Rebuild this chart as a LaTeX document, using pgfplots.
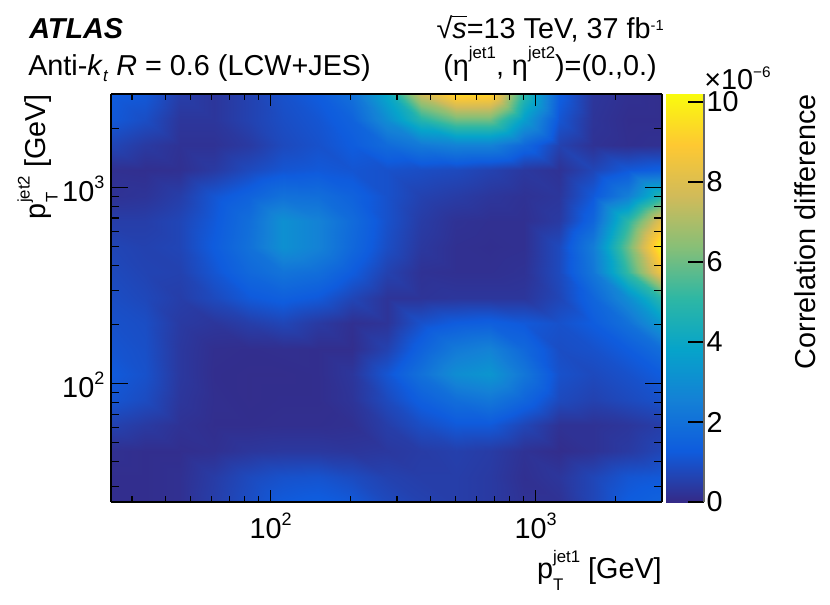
\documentclass[border=0pt]{standalone}
\usepackage{fontspec}
\setmainfont{Liberation Sans}
\usepackage{pgfplots}
\pgfplotsset{compat=1.18}
\newcommand\st[1]{\fontsize{12.6pt}{14pt}\selectfont #1}
\newcommand\fs{\fontsize{21.6pt}{26pt}\selectfont}
\newcommand\pT[1]{p\makebox[0pt][l]{\raisebox{-9.5pt}{\st{T}}}\raisebox{11.5pt}{\st{#1}}}
\newcommand\etaj[1]{η\raisebox{13pt}{\st{#1}}}
\newcommand\tl[1]{10\raisebox{9.5pt}{\fontsize{13.5pt}{14pt}\selectfont #1}}
\pgfplotsset{colormap={bird}{rgb=(0.2082,0.1664,0.5293) rgb=(0.0592,0.3599,0.8684) rgb=(0.0780,0.5041,0.8385) rgb=(0.0232,0.6419,0.7914) rgb=(0.1802,0.7178,0.6425) rgb=(0.5301,0.7492,0.4662) rgb=(0.8186,0.7328,0.3499) rgb=(0.9956,0.7862,0.1968) rgb=(0.9764,0.9832,0.0539)}}
\begin{document}
\begin{tikzpicture}
\path[use as bounding box] (0,0) rectangle (622.5pt,453pt);
\begin{axis}[
  at={(83.25pt,76.5pt)},anchor=south west,scale only axis,
  width=413.25pt,height=306pt,
  xmode=log,ymode=log,xmin=25,xmax=3000,ymin=25,ymax=3000,
  view={0}{90},colormap name=bird,point meta min=0,point meta max=10.2,
  axis on top,tick align=inside,
  axis line style={line width=0.8pt,black},
  xtick={100,1000},ytick={100,1000},
  xticklabels={\tl{2},\tl{3}},
  yticklabels={\tl{2},\tl{3}},
  minor xtick={30,40,50,60,70,80,90,200,300,400,500,600,700,800,900,2000,3000},
  minor ytick={30,40,50,60,70,80,90,200,300,400,500,600,700,800,900,2000,3000},
  x tick style={black,line width=0.8pt},
  y tick style={black,line width=0.8pt,/pgfplots/major tick length=12.75pt,/pgfplots/minor tick length=6.4pt},
  minor x tick style={black,line width=0.8pt},minor y tick style={black,line width=0.8pt},
  xtick pos=both,ytick pos=both,
  major tick length=9pt,minor tick length=4.5pt,
  xticklabel pos=bottom,yticklabel pos=left,
  tick label style={font=\fs},
  x tick label style={yshift=-5pt},
  y tick label style={xshift=-1.5pt,yshift=-1pt},
]
\addplot3[surf,shader=interp,mesh/cols=17] coordinates {
(25,3000,1.3)(33.7,3000,1.2)(45.5,3000,.5)(61.4,3000,.3)(82.8,3000,.6)(111.7,3000,1.0)(150.7,3000,1.3)(203.2,3000,2.0)(274.2,3000,4.0)(369.8,3000,7.6)(498.8,3000,9.4)(672.9,3000,9.3)(907.6,3000,5.0)(1224,3000,1.4)(1651,3000,.3)(2224,3000,.15)(3000,3000,.1)
(25,2224,1.2)(33.7,2224,.9)(45.5,2224,.3)(61.4,2224,.3)(82.8,2224,.6)(111.7,2224,.9)(150.7,2224,1.1)(203.2,2224,1.5)(274.2,2224,3.0)(369.8,2224,4.8)(498.8,2224,6)(672.9,2224,6)(907.6,2224,3.6)(1224,2224,1.1)(1651,2224,.25)(2224,2224,.1)(3000,2224,.1)
(25,1651,.7)(33.7,1651,.4)(45.5,1651,.2)(61.4,1651,.2)(82.8,1651,.4)(111.7,1651,.8)(150.7,1651,1.0)(203.2,1651,1.3)(274.2,1651,1.8)(369.8,1651,2.3)(498.8,1651,2.6)(672.9,1651,2.6)(907.6,1651,1.7)(1224,1651,.6)(1651,1651,.2)(2224,1651,.12)(3000,1651,.15)
(25,1224,.15)(33.7,1224,.12)(45.5,1224,.15)(61.4,1224,.4)(82.8,1224,.8)(111.7,1224,1.1)(150.7,1224,1.2)(203.2,1224,1.1)(274.2,1224,1.0)(369.8,1224,.9)(498.8,1224,.8)(672.9,1224,.6)(907.6,1224,.35)(1224,1224,.2)(1651,1224,.7)(2224,1224,1.2)(3000,1224,1.4)
(25,907.6,.2)(33.7,907.6,.25)(45.5,907.6,.5)(61.4,907.6,1.1)(82.8,907.6,1.5)(111.7,907.6,2.0)(150.7,907.6,1.9)(203.2,907.6,1.5)(274.2,907.6,1.0)(369.8,907.6,.6)(498.8,907.6,.45)(672.9,907.6,.3)(907.6,907.6,.2)(1224,907.6,.3)(1651,907.6,1.2)(2224,907.6,2.5)(3000,907.6,4.8)
(25,672.9,.5)(33.7,672.9,.5)(45.5,672.9,.7)(61.4,672.9,1.2)(82.8,672.9,1.9)(111.7,672.9,3.1)(150.7,672.9,2.6)(203.2,672.9,1.8)(274.2,672.9,1.0)(369.8,672.9,.45)(498.8,672.9,.2)(672.9,672.9,.15)(907.6,672.9,.15)(1224,672.9,.4)(1651,672.9,1.6)(2224,672.9,5)(3000,672.9,8.3)
(25,498.8,.7)(33.7,498.8,.6)(45.5,498.8,.7)(61.4,498.8,1.3)(82.8,498.8,2.0)(111.7,498.8,3.1)(150.7,498.8,2.6)(203.2,498.8,1.7)(274.2,498.8,.9)(369.8,498.8,.35)(498.8,498.8,.15)(672.9,498.8,.12)(907.6,498.8,.15)(1224,498.8,.8)(1651,498.8,2.4)(2224,498.8,6)(3000,498.8,10.1)
(25,369.8,.8)(33.7,369.8,.65)(45.5,369.8,.6)(61.4,369.8,1.1)(82.8,369.8,1.7)(111.7,369.8,2.1)(150.7,369.8,1.9)(203.2,369.8,1.3)(274.2,369.8,.6)(369.8,369.8,.2)(498.8,369.8,.15)(672.9,369.8,.15)(907.6,369.8,.2)(1224,369.8,.8)(1651,369.8,2.2)(2224,369.8,5.2)(3000,369.8,8.7)
(25,274.2,.9)(33.7,274.2,.75)(45.5,274.2,.5)(61.4,274.2,.8)(82.8,274.2,1.2)(111.7,274.2,1.4)(150.7,274.2,1.2)(203.2,274.2,.7)(274.2,274.2,.25)(369.8,274.2,.25)(498.8,274.2,.3)(672.9,274.2,.3)(907.6,274.2,.3)(1224,274.2,.7)(1651,274.2,1.6)(2224,274.2,3)(3000,274.2,5)
(25,203.2,1.0)(33.7,203.2,.9)(45.5,203.2,.4)(61.4,203.2,.3)(82.8,203.2,.5)(111.7,203.2,.7)(150.7,203.2,.4)(203.2,203.2,.15)(274.2,203.2,.25)(369.8,203.2,1.0)(498.8,203.2,1.3)(672.9,203.2,1.4)(907.6,203.2,1.2)(1224,203.2,1.0)(1651,203.2,1.3)(2224,203.2,2.0)(3000,203.2,3.5)
(25,150.7,1.1)(33.7,150.7,.95)(45.5,150.7,.35)(61.4,150.7,.12)(82.8,150.7,.1)(111.7,150.7,.12)(150.7,150.7,.1)(203.2,150.7,.1)(274.2,150.7,.6)(369.8,150.7,1.5)(498.8,150.7,2.3)(672.9,150.7,2.6)(907.6,150.7,1.7)(1224,150.7,.9)(1651,150.7,1.0)(2224,150.7,1.3)(3000,150.7,1.9)
(25,111.7,1.25)(33.7,111.7,1.0)(45.5,111.7,.35)(61.4,111.7,.1)(82.8,111.7,.08)(111.7,111.7,.08)(150.7,111.7,.1)(203.2,111.7,.3)(274.2,111.7,1.1)(369.8,111.7,2.0)(498.8,111.7,3.0)(672.9,111.7,3.3)(907.6,111.7,2.2)(1224,111.7,1.0)(1651,111.7,.8)(2224,111.7,1.0)(3000,111.7,1.3)
(25,82.8,1.1)(33.7,82.8,.85)(45.5,82.8,.3)(61.4,82.8,.12)(82.8,82.8,.08)(111.7,82.8,.1)(150.7,82.8,.1)(203.2,82.8,.25)(274.2,82.8,.8)(369.8,82.8,1.4)(498.8,82.8,1.9)(672.9,82.8,2.2)(907.6,82.8,1.6)(1224,82.8,.8)(1651,82.8,.6)(2224,82.8,.8)(3000,82.8,1.0)
(25,61.4,.6)(33.7,61.4,.4)(45.5,61.4,.2)(61.4,61.4,.1)(82.8,61.4,.1)(111.7,61.4,.12)(150.7,61.4,.12)(203.2,61.4,.15)(274.2,61.4,.5)(369.8,61.4,.9)(498.8,61.4,1.2)(672.9,61.4,1.2)(907.6,61.4,.7)(1224,61.4,.2)(1651,61.4,.2)(2224,61.4,.3)(3000,61.4,.5)
(25,45.5,.15)(33.7,45.5,.1)(45.5,45.5,.1)(61.4,45.5,.15)(82.8,45.5,.3)(111.7,45.5,.35)(150.7,45.5,.35)(203.2,45.5,.3)(274.2,45.5,.35)(369.8,45.5,.45)(498.8,45.5,.55)(672.9,45.5,.45)(907.6,45.5,.2)(1224,45.5,.08)(1651,45.5,.2)(2224,45.5,.4)(3000,45.5,.7)
(25,33.7,.1)(33.7,33.7,.1)(45.5,33.7,.15)(61.4,33.7,.45)(82.8,33.7,.8)(111.7,33.7,1.0)(150.7,33.7,1.05)(203.2,33.7,.85)(274.2,33.7,.6)(369.8,33.7,.5)(498.8,33.7,.5)(672.9,33.7,.4)(907.6,33.7,.15)(1224,33.7,.3)(1651,33.7,.7)(2224,33.7,1.1)(3000,33.7,1.2)
(25,25,.1)(33.7,25,.1)(45.5,25,.15)(61.4,25,.5)(82.8,25,.9)(111.7,25,1.25)(150.7,25,1.35)(203.2,25,1.2)(274.2,25,.8)(369.8,25,.6)(498.8,25,.5)(672.9,25,.4)(907.6,25,.2)(1224,25,.2)(1651,25,.7)(2224,25,1.3)(3000,25,1.5)
};
\end{axis}
\begin{axis}[
  at={(499.5pt,76.5pt)},anchor=south west,scale only axis,
  width=28.5pt,height=306pt,
  xmin=0,xmax=1,ymin=0,ymax=10.2,
  view={0}{90},colormap name=bird,point meta min=0,point meta max=10.2,
  hide axis,
]
\addplot3[surf,shader=interp,mesh/cols=2] coordinates {
(0,0,0)(1,0,0)
(0,10.2,10.2)(1,10.2,10.2)
};
\end{axis}
\begin{axis}[
  at={(499.5pt,76.5pt)},anchor=south west,scale only axis,
  width=28.5pt,height=306pt,
  xmin=0,xmax=1,ymin=0,ymax=10.2,clip=false,
  tick align=inside,
  axis line style={draw=none},
  xtick=\empty,
  ytick pos=right,yticklabel pos=right,
  ytick={0,2,4,6,8,10},yticklabels={0,2,4,6,8,10},
  y tick style={draw=none},
  major tick length=12pt,
  tick label style={font=\fs},
  y tick label style={xshift=-1.5pt},
]
\addplot[black,line width=0.8pt] coordinates {(0.58,0)(1,0)};
\addplot[black,line width=0.8pt] coordinates {(0.58,2)(1,2)};
\addplot[black,line width=0.8pt] coordinates {(0.58,4)(1,4)};
\addplot[black,line width=0.8pt] coordinates {(0.58,6)(1,6)};
\addplot[black,line width=0.8pt] coordinates {(0.58,8)(1,8)};
\addplot[black,line width=0.8pt] coordinates {(0.58,10)(1,10)};
\addplot[black!60,line width=0.8pt] coordinates {(1,0)(1,10.2)};
\end{axis}
\begin{scope}[shift={(0pt,453pt)},x=0.75pt,y=-0.75pt]
\node[anchor=base west,inner sep=0pt,font=\fs\bfseries\itshape] at (29,39) {ATLAS};
\node[anchor=base west,inner sep=0pt,font=\fs] at (28,76) {Anti-\textit{k}\raisebox{-4pt}{\st{\textit{t}}} \textit{R} = 0.6 (LCW+JES)};
\node[anchor=base east,inner sep=0pt,font=\fs] at (664,39) {√\makebox[0pt][l]{\rule[17pt]{11pt}{0.6pt}}\textit{s}=13 TeV, 37 fb\raisebox{6pt}{\fontsize{11pt}{12pt}\selectfont -1}};
\node[anchor=base east,inner sep=0pt,font=\fs] at (657,76) {(\etaj{jet1}, \etaj{jet2})=(0.,0.)};
\node[anchor=base east,inner sep=0pt,font=\fs] at (662,578) {\pT{jet1} [GeV]};
\node[anchor=base east,inner sep=0pt,font=\fs,rotate=90] at (45,94) {\pT{jet2} [GeV]};
\node[anchor=base east,inner sep=0pt,font=\fs,rotate=90] at (815,94) {Correlation difference};
\node[anchor=base west,inner sep=0pt,font=\fs] at (704,90) {×10\raisebox{9.5pt}{\fontsize{11.5pt}{12pt}\selectfont −6}};
\end{scope}
\end{tikzpicture}
\end{document}
